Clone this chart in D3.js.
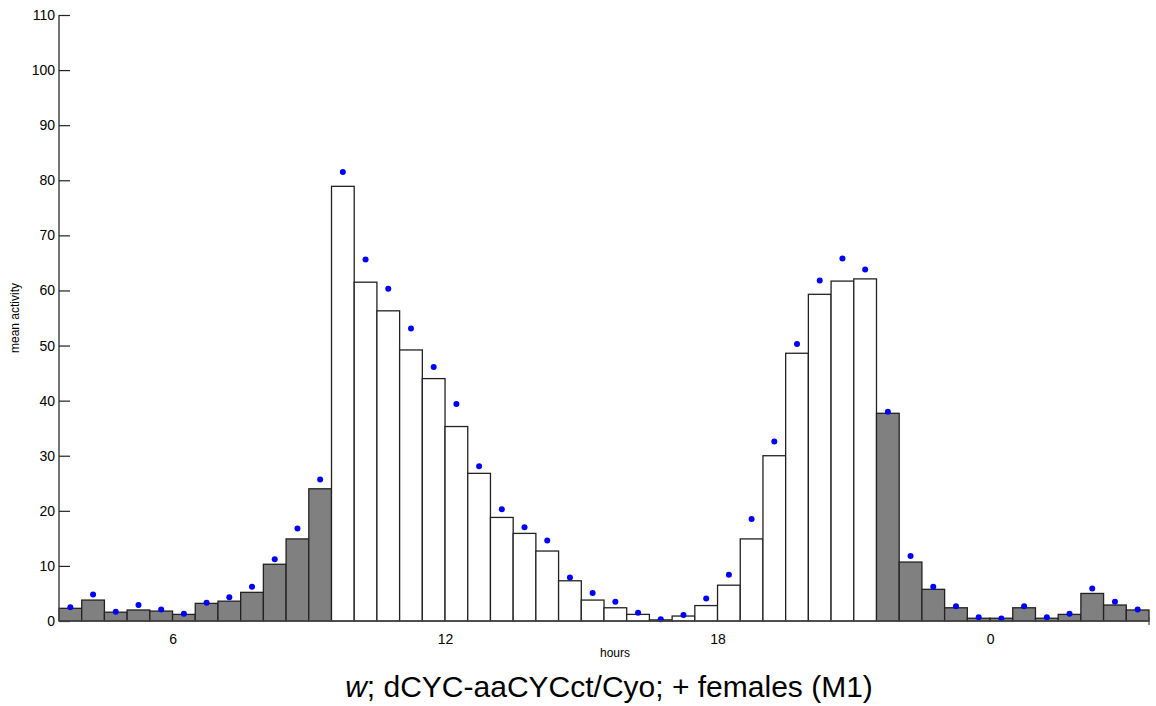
<!DOCTYPE html>
<html>
<head>
<meta charset="utf-8">
<script src="https://cdn.jsdelivr.net/npm/d3@7"></script>
<style>
  body { margin: 0; background: #fff; }
  text { font-family: "Liberation Sans", Arial, sans-serif; }
</style>
</head>
<body>
<div id="chart"></div>
<script>
// half hour bins, start time of each bin (hours)
var binStart = [3.5, 4, 4.5, 5, 5.5, 6, 6.5, 7, 7.5, 8, 8.5, 9,
                9.5, 10, 10.5, 11, 11.5, 12, 12.5, 13, 13.5, 14, 14.5, 15,
                15.5, 16, 16.5, 17, 17.5, 18, 18.5, 19, 19.5, 20, 20.5, 21,
                21.5, 22, 22.5, 23, 23.5, 24, 24.5, 25, 25.5, 26, 26.5, 27];
// bar heights
var activity = [2.3, 3.8, 1.6, 2.0, 1.8, 1.2, 3.2, 3.6, 5.2, 10.3, 14.9, 24.0,
                78.9, 61.5, 56.3, 49.2, 44.0, 35.3, 26.8, 18.8, 15.9, 12.7, 7.3, 3.8,
                2.4, 1.2, 0.2, 0.9, 2.8, 6.5, 14.9, 30.0, 48.6, 59.3, 61.7, 62.1,
                37.7, 10.7, 5.75, 2.4, 0.5, 0.5, 2.4, 0.5, 1.2, 5.0, 2.9, 2.0];
// blue dots
var dots = [2.5, 4.8, 1.7, 2.9, 2.1, 1.3, 3.3, 4.3, 6.2, 11.2, 16.8, 25.7,
            81.5, 65.6, 60.3, 53.1, 46.1, 39.4, 28.1, 20.3, 17.0, 14.6, 7.9, 5.1,
            3.5, 1.5, 0.3, 1.1, 4.1, 8.4, 18.5, 32.6, 50.3, 61.8, 65.8, 63.8,
            38.0, 11.8, 6.2, 2.7, 0.7, 0.45, 2.7, 0.7, 1.3, 5.9, 3.5, 2.1];
var lightsOn = 9.5, lightsOff = 21.5;
var hourTicks = [6, 12, 18, 24];
var activityTicks = [0, 10, 20, 30, 40, 50, 60, 70, 80, 90, 100, 110];
var titleItalic = "w";
var titleRest = "; dCYC-aaCYCct/Cyo; + females (M1)";

var margin = {top: 15, right: 7, bottom: 85, left: 59},
    width = 1156 - margin.left - margin.right,
    height = 706 - margin.top - margin.bottom;

var svg = d3.select("#chart")
    .append("svg")
    .attr("width", 1156)
    .attr("height", 706)
    .append("g")
    .attr("transform", `translate(${margin.left},${margin.top})`);

var x = d3.scaleLinear()
    .domain([3.5, 27.5])
    .range([0, width]);

var y = d3.scaleLinear()
    .domain([0, 110])
    .range([height, 0]);

var data = binStart.map(function(h, i){
    return {start: h, value: activity[i], dot: dots[i]};
});

svg.selectAll("rect.bar")
    .data(data)
    .enter()
    .append("rect")
    .attr("class", "bar")
    .attr("x", function(d){ return x(d.start); })
    .attr("width", function(d){ return x(d.start + 0.5) - x(d.start); })
    .attr("y", function(d){ return y(d.value); })
    .attr("height", function(d){ return height - y(d.value); })
    .attr("fill", function(d){ return (d.start >= lightsOn && d.start < lightsOff) ? "#ffffff" : "#808080"; })
    .attr("stroke", "#222")
    .attr("stroke-width", 1.3);

svg.selectAll("circle.dot")
    .data(data)
    .enter()
    .append("circle")
    .attr("class", "dot")
    .attr("cx", function(d){ return x(d.start + 0.25); })
    .attr("cy", function(d){ return y(d.dot); })
    .attr("r", 3)
    .attr("fill", "#0000ff");

// y axis, ticks pointing inward
var yAxis = svg.append("g")
    .call(d3.axisRight(y).tickValues(activityTicks).tickSize(11).tickFormat(d3.format("d")));
yAxis.select(".domain").attr("stroke", "#444").attr("stroke-width", 1.5)
    .attr("d", `M0,0V${height}`);
yAxis.selectAll(".tick line").attr("stroke", "#222").attr("stroke-width", 1.2);
yAxis.selectAll(".tick text")
    .attr("x", -4)
    .attr("text-anchor", "end")
    .style("font-size", "14px")
    .style("font-family", "Liberation Sans, Arial, sans-serif")
    .attr("fill", "#000");

// x axis
var xAxis = svg.append("g")
    .attr("transform", `translate(0,${height})`)
    .call(d3.axisBottom(x).tickValues(hourTicks).tickSize(0).tickPadding(13)
        .tickFormat(function(d){ return d % 24; }));
xAxis.select(".domain").attr("stroke", "#444").attr("stroke-width", 1.5)
    .attr("d", `M0,0H${width}`);
xAxis.selectAll(".tick text")
    .style("font-size", "14px")
    .style("font-family", "Liberation Sans, Arial, sans-serif")
    .attr("fill", "#000");

svg.append("line")
    .attr("x1", width).attr("x2", width)
    .attr("y1", height - 4).attr("y2", height + 4)
    .attr("stroke", "#444").attr("stroke-width", 1.2);

svg.append("text")
    .attr("text-anchor", "middle")
    .attr("x", 556)
    .attr("y", height + 36)
    .style("font-size", "12px")
    .text("hours");

svg.append("text")
    .attr("text-anchor", "middle")
    .attr("transform", "rotate(-90)")
    .attr("x", -303)
    .attr("y", -40)
    .style("font-size", "12px")
    .text("mean activity");

var title = svg.append("text")
    .attr("text-anchor", "middle")
    .attr("x", 550)
    .attr("y", height + 76)
    .style("font-size", "30px");
title.append("tspan").style("font-style", "italic").text(titleItalic);
title.append("tspan").text(titleRest);
</script>
</body>
</html>
